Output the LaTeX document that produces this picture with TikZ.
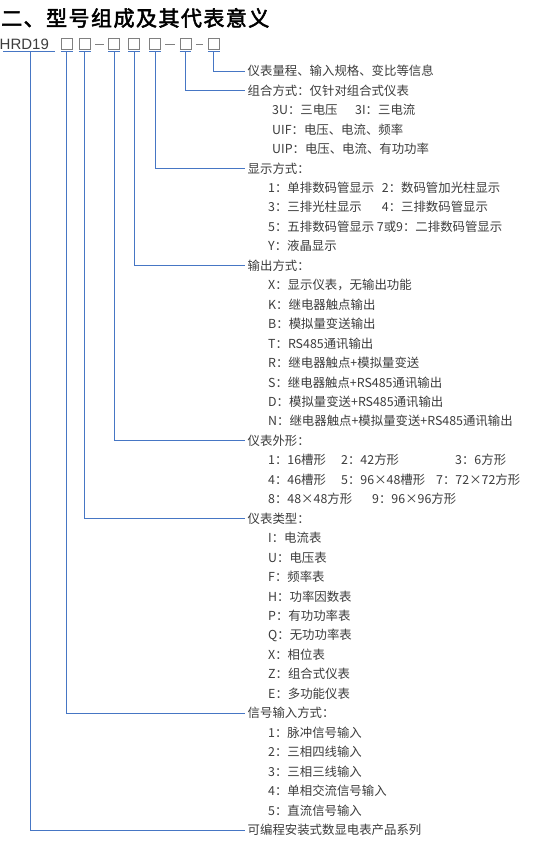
\documentclass[tikz,border=0pt]{standalone}
\usepackage{fontspec}
\setmainfont{Noto Sans CJK SC}
\newfontfamily\titlefont[FakeBold=2.5, LetterSpace=7]{Noto Sans CJK SC}
\newfontfamily\latinfont{Liberation Sans}
\definecolor{linkblue}{RGB}{70,118,196}
\definecolor{txtgray}{RGB}{60,60,60}
\definecolor{boxgray}{RGB}{128,128,128}

\begin{document}
\begin{tikzpicture}[x=1pt, y=-1pt,
    every node/.style={inner sep=0pt, text=txtgray, font=\fontsize{12.4}{14}\selectfont},
    digit/.style={draw=boxgray, line width=0.8pt, minimum size=11pt},
    link/.style={draw=linkblue, line width=0.9pt},
    sep/.style={draw=boxgray, line width=0.8pt},
    head/.style={anchor=west, inner sep=2.5pt},
    item/.style={anchor=west}]
  \useasboundingbox (0,0) rectangle (538,856);
  \node[anchor=west, text=black, font=\titlefont\fontsize{21}{21}\selectfont] (title) at (1,18) {二、型号组成及其代表意义};
  \node[anchor=west, font=\latinfont\fontsize{15}{15}\selectfont] (hrd) at (-0.5,44.6) {HRD19};
  \foreach \n/\cx in {1/66.8, 2/84.8, 3/114.2, 4/134.2, 5/155, 6/185.5, 7/213.8}
    {
      \node[digit] (b\n) at (\cx,44.2) {};
      \draw[link] ([yshift=-1.6pt]b\n.south west) -- ([yshift=-1.6pt]b\n.south east);
    }
  \foreach \a/\b in {b2/b3, b5/b6, b6/b7}
    \draw[sep] ([xshift=4.5pt]\a.east) -- ([xshift=-4.5pt]\b.west);
  \draw[link] (3,51.3) -- (55,51.3);
  \coordinate (hrdu) at (30.7,49.7);
  \foreach \r/\src/\et in {
    0/b7.south/{仪表量程、输入规格、变比等信息},
    1/b6.south/{组合方式：仅针对组合式仪表},
    5/b5.south/{显示方式：},
    10/b4.south/{输出方式：},
    19/b3.south/{仪表外形：},
    23/b2.south/{仪表类型：},
    33/b1.south/{信号输入方式：},
    39/hrdu/{可编程安装式数显电表产品系列}}
    {
      \node[head] (h\r) at (245,{71+19.46*\r}) {\et};
      \draw[link] ([yshift=-1.6pt]\src) |- (h\r.west);
    }
  \foreach \r/\k/\x/\et in {
    2/a/272/{3U：三电压}, 2/b/355/{3I：三电流},
    3/a/272/{UIF：电压、电流、频率},
    4/a/272/{UIP：电压、电流、有功功率},
    6/a/268/{1：单排数码管显示}, 6/b/381.7/{2：数码管加光柱显示},
    7/a/268/{3：三排光柱显示}, 7/b/381.7/{4：三排数码管显示},
    8/a/268/{5：五排数码管显示}, 8/b/376.7/{7或9：二排数码管显示},
    9/a/268/{Y：液晶显示},
    11/a/268/{X：显示仪表，无输出功能},
    12/a/268/{K：继电器触点输出},
    13/a/268/{B：模拟量变送输出},
    14/a/268/{T：RS485通讯输出},
    15/a/268/{R：继电器触点+模拟量变送},
    16/a/268/{S：继电器触点+RS485通讯输出},
    17/a/268/{D：模拟量变送+RS485通讯输出},
    18/a/268/{N：继电器触点+模拟量变送+RS485通讯输出},
    20/a/268/{1：16槽形}, 20/b/341/{2：42方形}, 20/c/455/{3：6方形},
    21/a/268/{4：46槽形}, 21/b/341/{5：96×48槽形}, 21/c/436/{7：72×72方形},
    22/a/268/{8：48×48方形}, 22/b/372/{9：96×96方形},
    24/a/268/{I：电流表},
    25/a/268/{U：电压表},
    26/a/268/{F：频率表},
    27/a/268/{H：功率因数表},
    28/a/268/{P：有功功率表},
    29/a/268/{Q：无功功率表},
    30/a/268/{X：相位表},
    31/a/268/{Z：组合式仪表},
    32/a/268/{E：多功能仪表},
    34/a/268/{1：脉冲信号输入},
    35/a/268/{2：三相四线输入},
    36/a/268/{3：三相三线输入},
    37/a/268/{4：单相交流信号输入},
    38/a/268/{5：直流信号输入}}
    \node[item] (s\r\k) at (\x,{71+19.46*\r}) {\et};
\end{tikzpicture}
\end{document}
